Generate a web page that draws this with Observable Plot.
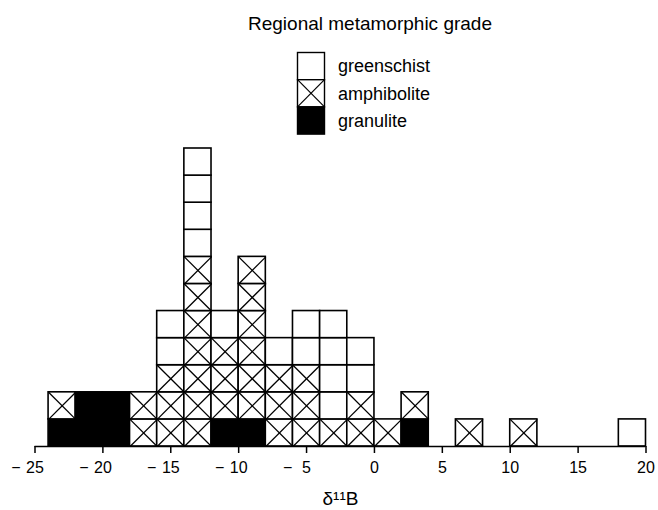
<!DOCTYPE html>
<html><head><meta charset="utf-8">
<script src="https://cdn.jsdelivr.net/npm/d3@7"></script>
<script src="https://cdn.jsdelivr.net/npm/@observablehq/plot@0.6"></script>
<style>
body{margin:0;background:#fff;font-family:"Liberation Sans",Arial,sans-serif;}
#wrap{width:658px;height:510px;overflow:hidden;background:#fff}
#wrap svg{display:block}
</style></head><body><div id="wrap"></div>
<script>
// bin starts (bin width 2 permil)
const bins = [-24,-22,-20,-18,-16,-14,-12,-10,-8,-6,-4,-2,0,2,4,6,8,10,12,14,16,18];
const granulite   = [1,2,2,0,0,0,1,1,0,0,0,0,0,1,0,0,0,0,0,0,0,0];
const amphibolite = [1,0,0,2,3,7,3,6,3,3,1,2,1,1,0,1,0,1,0,0,0,0];
const greenschist = [0,0,0,0,2,4,1,0,1,2,4,2,0,0,0,0,0,0,0,0,0,1];
const stackOrder = ["granulite","amphibolite","greenschist"];
const legendOrder = ["greenschist","amphibolite","granulite"];
const gradeColors = ["black","white","white"];
const xTicks = [-25,-20,-15,-10,-5,0,5,10,15,20];
const binWidth = 2;
const title = "Regional metamorphic grade";
const xLabel = "δ\u00B9\u00B9B";
const FONT = '"Liberation Sans", Arial, sans-serif';

const counts = {granulite, amphibolite, greenschist};
const cells = [];
bins.forEach((b, i) => {
  let level = 0;
  for (const g of stackOrder) {
    for (let k = 0; k < counts[g][i]; k++) {
      cells.push({grade: g, x1: b, x2: b + binWidth, y1: level, y2: level + 1});
      level++;
    }
  }
});
const crossed = cells.filter(d => d.grade === "amphibolite");

// Header: title + legend
const header = d3.create("svg").attr("width", 658).attr("height", 140)
  .style("font-family", FONT);
header.append("text").attr("x", 370).attr("y", 30).attr("text-anchor", "middle")
  .attr("font-size", 19).attr("fill", "black").text(title);
const sw = 27, sh = 27.2, lx = 297.5, ly = 52.5;
legendOrder.forEach((g, i) => {
  const y0 = ly + i * sh;
  const fill = gradeColors[stackOrder.indexOf(g)];
  header.append("rect").attr("x", lx).attr("y", y0).attr("width", sw).attr("height", sh)
    .attr("fill", fill).attr("stroke", "black").attr("stroke-width", 1.4);
  if (g === "amphibolite") {
    header.append("line").attr("x1", lx).attr("y1", y0).attr("x2", lx + sw).attr("y2", y0 + sh)
      .attr("stroke", "black").attr("stroke-width", 1.2);
    header.append("line").attr("x1", lx).attr("y1", y0 + sh).attr("x2", lx + sw).attr("y2", y0)
      .attr("stroke", "black").attr("stroke-width", 1.2);
  }
  header.append("text").attr("x", 338).attr("y", y0 + sh / 2).attr("dy", "0.35em")
    .attr("font-size", 18).attr("fill", "black").text(g);
});
document.getElementById("wrap").append(header.node());

const chart = Plot.plot({
  width: 658, height: 370,
  marginTop: 8, marginBottom: 64, marginLeft: 34.5, marginRight: 12.5,
  style: {fontFamily: FONT, fontSize: "16px", background: "white", color: "black"},
  x: {domain: [-25, 20]},
  y: {domain: [0, 11], axis: null},
  color: {domain: stackOrder, range: gradeColors},
  marks: [
    Plot.rect(cells, {x1: "x1", x2: "x2", y1: "y1", y2: "y2", fill: "grade", stroke: "black", strokeWidth: 1.6}),
    Plot.link(crossed, {x1: "x1", y1: "y1", x2: "x2", y2: "y2", stroke: "black", strokeWidth: 1.3}),
    Plot.link(crossed, {x1: "x1", y1: "y2", x2: "x2", y2: "y1", stroke: "black", strokeWidth: 1.3}),
    Plot.ruleY([0], {stroke: "black", strokeWidth: 1.5}),
    Plot.axisX({ticks: xTicks, tickSize: 7, tickPadding: 8, strokeWidth: 1.5,
      tickFormat: d => Math.abs(d), fontSize: 16, label: null}),
    Plot.text(xTicks.filter(d => d < 0), {x: d => d, y: 0, text: () => "\u2212",
      dy: 15, dx: -19, lineAnchor: "top", fontSize: 16, fill: "black"}),
    Plot.text([xLabel], {frameAnchor: "bottom", dy: 52, lineAnchor: "middle", fontSize: 19, fill: "black"})
  ]
});
document.getElementById("wrap").append(chart);
</script></body></html>
